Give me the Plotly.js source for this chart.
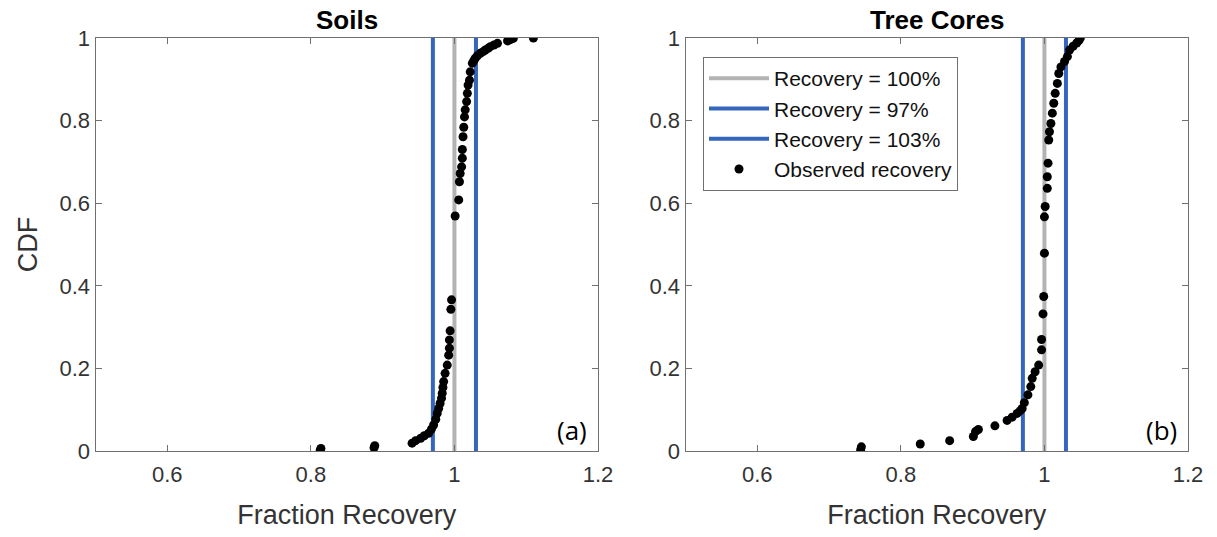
<!DOCTYPE html>
<html><head><meta charset="utf-8">
<script src="https://cdn.plot.ly/plotly-3.0.1.min.js"></script>
<style>body{margin:0;background:#fff}#c{width:1217px;height:537px}</style>
</head><body><div id="c"></div>
<script>
// Soils: observed recovery (sorted) and CDF
const soilsX = [0.813,0.814,0.888,0.889,0.941,0.946,0.953,0.958,0.964,0.968,0.971,0.974,0.976,0.978,0.980,0.982,0.983,0.984,0.985,0.987,0.990,0.992,0.993,0.993,0.994,0.995,0.996,
  1.001,1.006,1.007,1.008,1.010,1.011,1.011,1.012,1.013,1.014,1.015,1.017,1.018,1.019,1.021,1.022,1.025,1.027,1.029,1.032,1.036,1.040,1.043,1.047,1.050,1.055,1.060,1.074,1.078,1.082,1.110];
const soilsY = [0.002,0.006,0.008,0.013,0.019,0.025,0.031,0.037,0.043,0.053,0.063,0.077,0.091,0.103,0.115,0.128,0.140,0.154,0.168,0.188,0.208,0.232,0.249,0.269,0.291,0.343,0.366,
  0.569,0.608,0.652,0.672,0.688,0.709,0.730,0.761,0.784,0.809,0.826,0.846,0.866,0.886,0.898,0.918,0.939,0.945,0.951,0.957,0.963,0.967,0.971,0.975,0.979,0.983,0.987,0.993,0.996,0.999,1.0];
// Tree cores: observed recovery (sorted) and CDF
const treeX = [0.744,0.745,0.827,0.868,0.901,0.904,0.908,0.931,0.948,0.955,0.962,0.966,0.969,0.972,0.977,0.981,0.983,0.987,0.992,0.996,0.996,0.998,0.999,1.000,
  1.000,1.001,1.004,1.004,1.005,1.006,1.007,1.009,1.011,1.013,1.015,1.018,1.020,1.023,1.028,1.032,1.035,1.040,1.045,1.048,1.050];
const treeY = [0.003,0.010,0.017,0.025,0.035,0.047,0.052,0.061,0.074,0.082,0.091,0.097,0.103,0.117,0.136,0.156,0.176,0.192,0.208,0.245,0.270,0.332,0.374,0.479,
  0.567,0.592,0.636,0.664,0.697,0.753,0.773,0.793,0.818,0.842,0.866,0.890,0.914,0.930,0.943,0.955,0.971,0.980,0.988,0.994,1.0];
// Reference lines
const refVals = [1.00, 0.97, 1.03];
const refNames = ['Recovery = 100%', 'Recovery = 97%', 'Recovery = 103%'];
const refColors = ['#b3b3b3', '#3566bd', '#3566bd'];
const panelTitles = ['Soils', 'Tree Cores'];
const panelTags = ['(a)', '(b)'];
const xTicks = [0.6, 0.8, 1, 1.2];
const yTicks = [0, 0.2, 0.4, 0.6, 0.8, 1];

const traces = [];
[['x','y'],['x2','y2']].forEach((ax, p) => {
  refVals.forEach((v, i) => {
    traces.push({x:[v, v], y:[0, 1], xaxis:ax[0], yaxis:ax[1], mode:'lines', name:refNames[i],
      line:{color:refColors[i], width:4}, showlegend:p===1, hoverinfo:'skip'});
  });
  traces.push({x: p===0 ? soilsX : treeX, y: p===0 ? soilsY : treeY, xaxis:ax[0], yaxis:ax[1],
    mode:'markers', name:'Observed recovery', marker:{color:'#000', size:9}, showlegend:p===1});
});

const W = 1217, H = 537;
const F = 'Liberation Sans, Arial';
const axBase = {range:[0.5,1.2], tickvals:xTicks, ticktext:xTicks.map(String), ticks:'inside', ticklen:6, tickcolor:'#707070',
  showline:true, mirror:'ticks', linecolor:'#707070', linewidth:1, showgrid:false, zeroline:false,
  tickfont:{family:F, size:22, color:'#333'}, ticklabelstandoff:4,
  title:{text:'Fraction Recovery', font:{family:F, size:27, color:'#333'}, standoff:18}};
const ayBase = {range:[0,1], tickvals:yTicks, ticktext:yTicks.map(String), ticks:'inside', ticklen:6, tickcolor:'#707070',
  showline:true, mirror:'ticks', linecolor:'#707070', linewidth:1, showgrid:false, zeroline:false,
  tickfont:{family:F, size:22, color:'#333'}};

const yd = [1-451/H, 1-38/H];
const layout = {
  width:W, height:H, margin:{l:0,r:0,t:0,b:0}, paper_bgcolor:'#fff', plot_bgcolor:'#fff', showlegend:true,
  xaxis:Object.assign({}, axBase, {domain:[95.5/W, 598/W], anchor:'y'}),
  xaxis2:Object.assign({}, axBase, {domain:[685.5/W, 1188/W], anchor:'y2'}),
  yaxis:Object.assign({}, ayBase, {domain:yd, anchor:'x', title:{text:'CDF', font:{family:F, size:27, color:'#333'}, standoff:14}}),
  yaxis2:Object.assign({}, ayBase, {domain:yd, anchor:'x2'}),
  legend:{x:703/W, y:1-57/H, xanchor:'left', yanchor:'top', bgcolor:'#fff', bordercolor:'#707070', borderwidth:1,
    font:{family:F, size:21, color:'#111'}, itemwidth:60},
  annotations:[
    {text:'<b>'+panelTitles[0]+'</b>', xref:'paper', yref:'paper', x:(95.5+598)/2/W, y:1-20/H, xanchor:'center', yanchor:'middle', showarrow:false, font:{family:F, size:26, color:'#000'}},
    {text:'<b>'+panelTitles[1]+'</b>', xref:'paper', yref:'paper', x:(685.5+1188)/2/W, y:1-20/H, xanchor:'center', yanchor:'middle', showarrow:false, font:{family:F, size:26, color:'#000'}},
    {text:panelTags[0], xref:'x', yref:'y', x:1.187, y:0.05, xanchor:'right', yanchor:'middle', showarrow:false, font:{family:'Open Sans, Noto Sans', size:26, color:'#000'}},
    {text:panelTags[1], xref:'x2', yref:'y2', x:1.187, y:0.05, xanchor:'right', yanchor:'middle', showarrow:false, font:{family:'Open Sans, Noto Sans', size:26, color:'#000'}}
  ]
};
Plotly.newPlot('c', traces, layout, {displayModeBar:false, staticPlot:true});
</script></body></html>
